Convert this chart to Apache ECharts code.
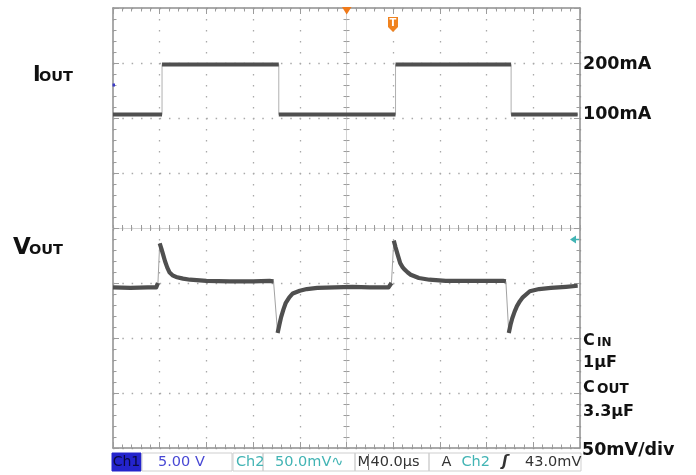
<html>
<head>
<meta charset="utf-8">
<script src="https://cdn.jsdelivr.net/npm/echarts@6.0.0/dist/echarts.min.js"></script>
<style>body{margin:0;background:#fff;}</style>
</head>
<body>
<div id="main" style="width:696px;height:475px;"></div>
<script type="text/javascript">
// time in µs, 0 = centre of screen, 40 µs/div
// Ch2 (Vout) in mV, 50 mV/div, 0 = centre line
var voltTime = [-200, -185, -170, -163, -161.5, -160, -158.5, -157, -155.5, -153.5, -151.5, -149, -146, -140, -134, -120, -100, -80, -66, -62.5,
                -59, -57.5, -56, -54, -52, -49, -46, -40, -34, -25, -10, 5, 20, 36, 38.5,
                40.5, 42, 43.5, 46, 48, 50, 52.5, 55, 62, 71, 85, 100, 120, 134, 136.5,
                139, 140.5, 142, 144, 146, 148.5, 151, 157, 165, 175, 188, 198];
var voltMV = [-54, -54.5, -54, -54, -50, -14, -19, -24.5, -30, -36, -40.5, -43, -44.5, -46, -47, -48, -48.5, -48.5, -48, -48.5,
              -95.5, -88, -81, -74, -68, -63, -59.5, -57, -55.5, -54.5, -54, -53.5, -54, -54, -50,
              -11.5, -17.5, -23, -32, -35.5, -38, -40.5, -42.5, -45.5, -47, -48, -48, -48, -48, -48.5,
              -95.5, -88, -82, -76, -71, -66.5, -63, -57.5, -55.5, -54.5, -53.5, -52.5];
// Ch1 (Iout) in mA
var curTime = [-200, -158, -158, -58, -58, 42, 42, 141, 141, 198];
var curMA = [100, 100, 200, 200, 100, 100, 200, 200, 100, 100];
var curLabels = [100, 200];

function toPairs(xs, ys) {
    return xs.map(function (x, i) { return [x, ys[i]]; });
}
// thick trace without the fast edges (those are drawn thin)
function thickParts(xs, ys, maxSlope) {
    var out = [];
    for (var i = 0; i < xs.length; i++) {
        if (i > 0) {
            var dt = xs[i] - xs[i - 1];
            if (dt === 0 || Math.abs((ys[i] - ys[i - 1]) / dt) > maxSlope) {
                out.push([xs[i - 1] + dt / 2, null]);
            }
        }
        out.push([xs[i], ys[i]]);
    }
    return out;
}

var box = {left: 113, top: 8, width: 467, height: 440};
var tickGray = '#9c9c9c';

function frameX(pos) {
    return {
        gridIndex: 0, type: 'value', min: -200, max: 200, interval: 40, position: pos,
        axisLine: {show: true, onZero: false, lineStyle: {color: '#8e8e8e', width: 1.5}},
        axisTick: {show: true, inside: true, length: 6, lineStyle: {color: tickGray}},
        minorTick: {show: true, splitNumber: 5, length: 3.5, lineStyle: {color: tickGray}},
        axisLabel: {show: false},
        splitLine: {show: pos === 'bottom', lineStyle: {color: '#a9a9a9', width: 1.3, type: [1.5, 9.5]}}
    };
}
function frameY(pos) {
    return {
        gridIndex: 0, type: 'value', min: -200, max: 200, interval: 50, position: pos,
        axisLine: {show: true, onZero: false, lineStyle: {color: '#8e8e8e', width: 1.5}},
        axisTick: {show: true, inside: true, length: 6, lineStyle: {color: tickGray}},
        minorTick: {show: true, splitNumber: 5, length: 3.5, lineStyle: {color: tickGray}},
        axisLabel: {show: false},
        splitLine: {show: pos === 'left', lineStyle: {color: '#a9a9a9', width: 1.3, type: [1.5, 7.83]}}
    };
}
function centreX(pos) {
    return {
        gridIndex: 1, type: 'value', min: -200, max: 200, interval: 40, position: pos,
        axisLine: {show: true, onZero: true, onZeroAxisIndex: 2, lineStyle: {color: '#d2d2d2', width: 1}},
        axisTick: {show: true, inside: false, length: 3, lineStyle: {color: tickGray}},
        minorTick: {show: true, splitNumber: 5, length: 3, lineStyle: {color: tickGray}},
        axisLabel: {show: false}, splitLine: {show: false}
    };
}
function centreY(pos) {
    return {
        gridIndex: 1, type: 'value', min: -200, max: 200, interval: 50, position: pos,
        axisLine: {show: true, onZero: true, onZeroAxisIndex: 2, lineStyle: {color: '#d2d2d2', width: 1}},
        axisTick: {show: true, inside: false, length: 3, lineStyle: {color: tickGray}},
        minorTick: {show: true, splitNumber: 5, length: 3, lineStyle: {color: tickGray}},
        axisLabel: {show: false}, splitLine: {show: false}
    };
}

function txt(x, y, s, size, color, extra) {
    var st = {text: s, fontFamily: 'DejaVu Sans', fontSize: size, fill: color, verticalAlign: 'middle'};
    if (extra) { for (var k in extra) st[k] = extra[k]; }
    return {type: 'text', x: x, y: y, z: 20, style: st};
}
function boxRect(x, w, fill) {
    return {type: 'rect', z: 15, shape: {x: x, y: 453, width: w, height: 18},
        style: {fill: fill || 'none', stroke: fill ? fill : '#cfcfcf', lineWidth: 1}};
}

var teal = '#42b4b4';
var ink = '#111';
var bold = {fontWeight: 'bold'};
var traceStyle = {color: '#4f4f4f', width: 4.2, join: 'round'};

var myChart = echarts.init(document.getElementById('main'));
var option = {
    animation: false,
    backgroundColor: '#fff',
    grid: [
        Object.assign({show: false}, box),
        Object.assign({show: false}, box),
        Object.assign({show: false}, box)
    ],
    xAxis: [frameX('bottom'), frameX('top'), centreX('bottom'), centreX('top'),
        {gridIndex: 2, type: 'value', min: -200, max: 200, show: false}],
    yAxis: [frameY('left'), frameY('right'), centreY('left'), centreY('right'),
        {
            gridIndex: 2, type: 'value', min: -567, max: 313, position: 'right',
            axisLine: {show: false, onZero: false}, axisTick: {show: false}, splitLine: {show: false},
            axisLabel: {
                show: true, customValues: curLabels, formatter: '{value}mA', margin: 3,
                fontFamily: 'DejaVu Sans', fontWeight: 'bold', fontSize: 17.5, color: ink
            }
        }],
    series: [
        {type: 'line', xAxisIndex: 0, yAxisIndex: 0, symbol: 'none', z: 3,
            data: toPairs(voltTime, voltMV), lineStyle: {color: '#a2a2a2', width: 1}},
        {type: 'line', xAxisIndex: 0, yAxisIndex: 0, symbol: 'none', z: 4, connectNulls: false,
            data: thickParts(voltTime, voltMV, 10), lineStyle: traceStyle},
        {type: 'line', xAxisIndex: 4, yAxisIndex: 4, symbol: 'none', z: 3,
            data: toPairs(curTime, curMA), lineStyle: {color: '#b0b0b0', width: 1}},
        {type: 'line', xAxisIndex: 4, yAxisIndex: 4, symbol: 'none', z: 4, connectNulls: false,
            data: thickParts(curTime, curMA, 10), lineStyle: traceStyle}
    ],
    graphic: [
        // channel names
        txt(33, 75.5, 'I', 20.5, ink, bold),
        txt(39, 77.5, 'OUT', 14.5, ink, bold),
        txt(13, 248.5, 'V', 23, ink, bold),
        txt(29, 250.5, 'OUT', 14.5, ink, bold),
        // right notes
        txt(583, 341, 'C', 16, ink, bold),
        txt(597, 342.5, 'IN', 12, ink, bold),
        txt(583, 363, '1µF', 16, ink, bold),
        txt(583, 387.5, 'C', 16, ink, bold),
        txt(597, 389, 'OUT', 13.5, ink, bold),
        txt(583, 411.5, '3.3µF', 16, ink, bold),
        txt(582, 450, '50mV/div', 17.5, ink, bold),
        // markers
        {type: 'polygon', z: 20, shape: {points: [[342, 7], [351.5, 7], [346.7, 14.5]]}, style: {fill: '#f07a1a'}},
        {type: 'polygon', z: 20, shape: {points: [[388, 17], [398, 17], [398, 27], [393, 32], [388, 27]]}, style: {fill: '#f0821e'}},
        txt(393, 23.5, 'T', 10, '#fff', {fontWeight: 'bold', align: 'center'}),
        {type: 'polygon', z: 20, shape: {points: [[570, 239.5], [576, 235.5], [576, 243.5]]}, style: {fill: teal}},
        {type: 'line', z: 20, shape: {x1: 575, y1: 239.5, x2: 579, y2: 239.5}, style: {stroke: teal, lineWidth: 1.5}},
        {type: 'rect', z: 20, shape: {x: 112.5, y: 83.5, width: 2.5, height: 3}, style: {fill: '#3a3ac8'}},
        // status bar
        boxRect(112, 29, '#2424cc'),
        txt(126.5, 462, 'Ch1', 14, '#0a0a40', {align: 'center'}),
        boxRect(142, 90),
        txt(158, 462, '5.00 V', 14.5, '#4848d4'),
        boxRect(233, 30),
        txt(236, 462, 'Ch2', 14.5, teal),
        boxRect(263, 92),
        txt(275, 462, '50.0mV∿', 14.5, teal),
        boxRect(355, 74),
        txt(357.5, 462, 'M', 14.5, '#333'),
        {type: 'line', z: 20, shape: {x1: 368.5, y1: 454, x2: 368.5, y2: 470}, style: {stroke: '#777', lineWidth: 1}},
        txt(370.5, 462, '40.0µs', 14.5, '#333'),
        boxRect(429, 152),
        txt(441.5, 462, 'A', 14.5, '#333'),
        txt(461.5, 462, 'Ch2', 14.5, teal),
        txt(502, 462, 'ʃ', 15, '#333', {fontStyle: 'italic', fontWeight: 'bold'}),
        txt(525, 462, '43.0mV', 14.5, '#333')
    ]
};
myChart.setOption(option);
</script>
</body>
</html>
